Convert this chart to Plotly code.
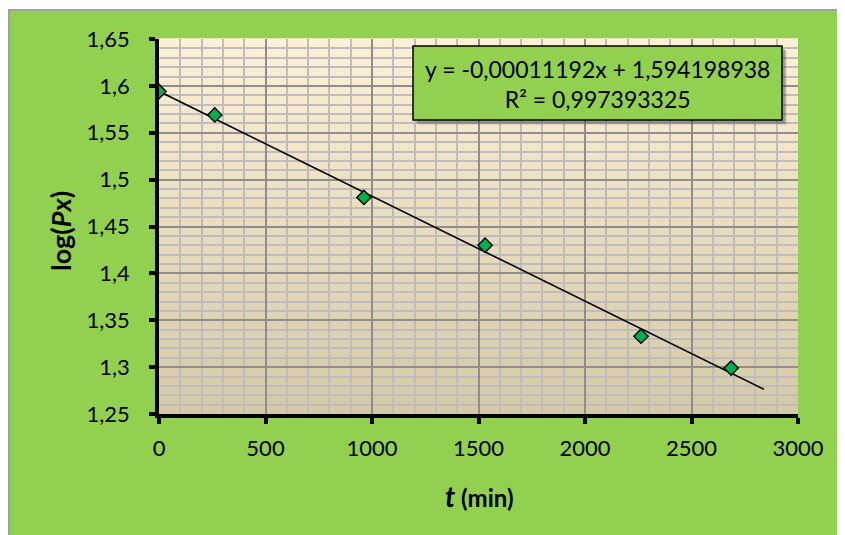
import plotly.graph_objects as go

# ---- data ----
t_min = [0, 262, 962, 1531, 2263, 2686]
log_px = [1.594, 1.569, 1.481, 1.430, 1.333, 1.299]
slope = -0.00011192
intercept = 1.594198938
r_squared = 0.997393325
trend_x = [0, 2840]
trend_y = [slope * x + intercept for x in trend_x]

x_tickvals = [0, 500, 1000, 1500, 2000, 2500, 3000]
x_ticktext = ["0", "500", "1000", "1500", "2000", "2500", "3000"]
y_tickvals = [1.25, 1.30, 1.35, 1.40, 1.45, 1.50, 1.55, 1.60, 1.65]
y_ticktext = ["1,25", "1,3", "1,35", "1,4", "1,45", "1,5", "1,55", "1,6", "1,65"]

eq_text = "y = -0,00011192x + 1,594198938<br>R² = 0,997393325"

# ---- layout geometry (page body adds an 8px offset) ----
OFF = 8
W, H = 845, 535
ML, MR, MT, MB = 151, 55, 31, 129
PW = W - ML - MR
PH = H - MT - MB

def px(xs):
    return (xs - OFF - ML) / PW

def py(ys):
    return (H - MB - (ys - OFF)) / PH

GREEN = "#92D050"
FONT = "Lato"

fig = go.Figure()
fig.add_trace(go.Scatter(
    x=trend_x, y=trend_y, mode="lines",
    line=dict(color="black", width=1.6), hoverinfo="skip", showlegend=False))
fig.add_trace(go.Scatter(
    x=t_min, y=log_px, mode="markers",
    marker=dict(symbol="diamond", size=11, color="#00B050",
                line=dict(color="black", width=1.4)),
    showlegend=False))

shapes = []
# white strip + gray frame outside the green chart area
shapes.append(dict(type="rect", xref="paper", yref="paper", x0=px(0), x1=px(W + 20),
                   y0=py(9), y1=py(0), fillcolor="white", line_width=0, layer="below"))
shapes.append(dict(type="line", xref="paper", yref="paper", x0=px(8), x1=px(W + 20),
                   y0=py(10), y1=py(10), line=dict(color="#A0A0A0", width=2), layer="below"))
shapes.append(dict(type="line", xref="paper", yref="paper", x0=px(9), x1=px(9),
                   y0=py(10), y1=py(H + 20), line=dict(color="#A0A0A0", width=2), layer="below"))

# gradient plot background
top = (253, 240, 214)
bot = (214, 201, 167)
n = 60
for i in range(n):
    f = i / (n - 1)
    c = tuple(round(top[k] + (bot[k] - top[k]) * f) for k in range(3))
    shapes.append(dict(type="rect", xref="paper", yref="paper", x0=0, x1=1,
                       y0=1 - (i + 1) / n, y1=1 - i / n + 0.002,
                       fillcolor="rgb(%d,%d,%d)" % c, line_width=0, layer="below"))

# equation box with shadow
bx0, bx1, by0, by1 = 413, 782, 46, 120
for off, op in [(5, 0.12), (4, 0.18), (3, 0.25)]:
    shapes.append(dict(type="rect", xref="paper", yref="paper",
                       x0=px(bx0 + off), x1=px(bx1 + off), y0=py(by1 + off), y1=py(by0 + off),
                       fillcolor="rgba(60,60,60,%.2f)" % op, line_width=0, layer="above"))
shapes.append(dict(type="rect", xref="paper", yref="paper",
                   x0=px(bx0), x1=px(bx1), y0=py(by1), y1=py(by0),
                   fillcolor=GREEN, line=dict(color="black", width=1.5), layer="above"))

annotations = [
    dict(text=eq_text, xref="paper", yref="paper", x=px((bx0 + bx1) / 2), y=py((by0 + by1) / 2 + 1),
         showarrow=False, align="center", font=dict(family=FONT, size=23, color="black"),
         xanchor="center", yanchor="middle"),
    dict(text="<b>log(<i>Px</i>)</b>", xref="paper", yref="paper", x=px(60), y=py(231),
         textangle=-90, showarrow=False, font=dict(family=FONT, size=27, color="black"),
         xanchor="center", yanchor="middle"),
    dict(text="<b><i>t</i></b><b><span style='font-size:24px'> (min)</span></b>",
         xref="paper", yref="paper", x=px(479), y=py(496), showarrow=False,
         font=dict(family=FONT, size=28, color="black"), xanchor="center", yanchor="middle"),
]

fig.update_layout(
    width=W, height=H,
    margin=dict(l=ML, r=MR, t=MT, b=MB, pad=0),
    paper_bgcolor=GREEN, plot_bgcolor="rgba(0,0,0,0)",
    shapes=shapes, annotations=annotations,
    font=dict(family=FONT, size=20, color="black"),
    showlegend=False,
)
fig.update_xaxes(
    range=[0, 3000], tickvals=x_tickvals, ticktext=x_ticktext,
    showline=True, linecolor="black", linewidth=3.5,
    ticks="outside", ticklen=6, tickwidth=3.5, tickcolor="black",
    showgrid=True, gridcolor="#8E8E8E", gridwidth=2, zeroline=False,
    minor=dict(dtick=100, showgrid=True, gridcolor="#BDBDBD", gridwidth=2, ticks=""),
    tickfont=dict(family=FONT, size=22, color="black"), ticklabelstandoff=6,
)
fig.update_yaxes(
    range=[1.25, 1.65], tickvals=y_tickvals, ticktext=y_ticktext,
    showline=True, linecolor="black", linewidth=3.5,
    ticks="outside", ticklen=6, tickwidth=3.5, tickcolor="black",
    showgrid=True, gridcolor="#8E8E8E", gridwidth=2, zeroline=False,
    minor=dict(dtick=0.01, showgrid=True, gridcolor="#BDBDBD", gridwidth=2, ticks=""),
    tickfont=dict(family=FONT, size=22, color="black"), ticklabelstandoff=15,
)

fig.write_html("out.html")
